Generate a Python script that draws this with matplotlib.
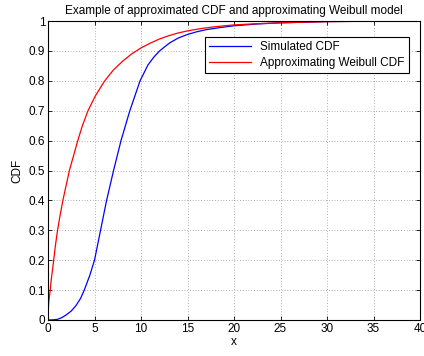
import matplotlib
matplotlib.use("Agg")
import matplotlib.pyplot as plt

plt.rcParams['font.family'] = ['Liberation Sans', 'DejaVu Sans']

# simulated CDF
sim_x = [0, 0.5, 1.0, 1.5, 2.0, 2.5, 3.0, 3.5, 3.9, 4.5, 5.0, 5.65, 6.3, 7.05, 7.85,
         8.8, 9.9, 10.75, 11.4, 12.0, 12.6, 13.1, 14.0, 15.0, 16.0, 17.0, 18.5,
         20.0, 22.5, 25.0, 27.5, 30.0, 35.0, 40.0]
sim_cdf = [0, 0.0005, 0.002, 0.008, 0.018, 0.03, 0.048, 0.072, 0.1, 0.15, 0.2, 0.3,
           0.4, 0.5, 0.6, 0.7, 0.8, 0.853, 0.88, 0.9, 0.915, 0.927, 0.943, 0.955,
           0.964, 0.971, 0.978, 0.984, 0.99, 0.994, 0.996, 0.998, 0.9993, 1.0]

# approximating Weibull CDF
wb_x = [0, 0.02, 0.08, 0.2, 0.35, 0.57, 0.78, 1.0, 1.3, 1.6, 1.95, 2.3, 2.75, 3.2,
        3.7, 4.3, 5.1, 6.1, 7.0, 8.0, 9.0, 10.0, 11.0, 12.0, 13.0, 14.0, 15.0,
        16.5, 18.0, 20.0, 22.5, 25.0, 27.5, 30.0, 35.0, 40.0]
wb_cdf = [0, 0.03, 0.06, 0.09, 0.135, 0.19, 0.245, 0.295, 0.35, 0.4, 0.45, 0.5,
          0.55, 0.6, 0.65, 0.7, 0.75, 0.8, 0.835, 0.865, 0.89, 0.91, 0.926, 0.94,
          0.951, 0.96, 0.967, 0.975, 0.981, 0.987, 0.991, 0.994, 0.996, 0.998,
          0.9993, 1.0]

xticks = [0, 5, 10, 15, 20, 25, 30, 35, 40]
yticks = [0, 0.1, 0.2, 0.3, 0.4, 0.5, 0.6, 0.7, 0.8, 0.9, 1]
ytick_labels = ['0', '0.1', '0.2', '0.3', '0.4', '0.5', '0.6', '0.7', '0.8', '0.9', '1']

fig = plt.figure(figsize=(4.24, 3.56), dpi=100)
ax = fig.add_axes([48/424, 36/356, 372/424, 299/356])

ax.plot(sim_x, sim_cdf, color='#0000ff', lw=0.9, label='Simulated CDF')
ax.plot(wb_x, wb_cdf, color='#ff0000', lw=0.9, label='Approximating Weibull CDF')

ax.set_xlim(0, 40)
ax.set_ylim(0, 1)
ax.set_xticks(xticks)
ax.set_yticks(yticks)
ax.set_yticklabels(ytick_labels)
ax.tick_params(direction='in', top=True, right=True, labelsize=8.5, length=3, width=0.6, pad=2)
ax.grid(True, linestyle=(0, (1, 3)), color='black', lw=0.5, alpha=0.6)
for s in ax.spines.values():
    s.set_linewidth(0.8)

ax.set_xlabel('x', fontsize=8.5, labelpad=1)
ax.set_ylabel('CDF', fontsize=8.5, labelpad=4)
ax.set_title('Example of approximated CDF and approximating Weibull model', fontsize=8.5, pad=5)

leg = ax.legend(loc='upper right', fontsize=8.5, fancybox=False, edgecolor='black',
                framealpha=1, borderpad=0.35, handlelength=3.5, labelspacing=0.3,
                bbox_to_anchor=(0.985, 0.965))
leg.get_frame().set_linewidth(0.8)

fig.savefig('out.png', dpi=100)
